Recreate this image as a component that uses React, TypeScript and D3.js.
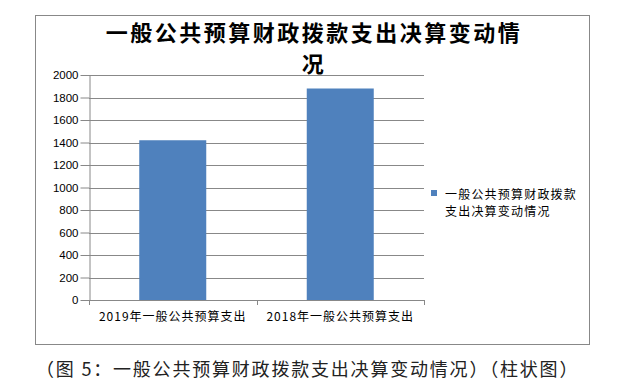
import * as d3 from 'd3';
import { useEffect, useRef } from 'react';

const categories = ['2019年一般公共预算支出', '2018年一般公共预算支出'];
const values = [1420, 1880];
const yTicks = [0, 200, 400, 600, 800, 1000, 1200, 1400, 1600, 1800, 2000];
const titleLines = ['一般公共预算财政拨款支出决算变动情', '况'];
const legendLines = ['一般公共预算财政拨款', '支出决算变动情况'];
const caption = '（图 5：一般公共预算财政拨款支出决算变动情况）（柱状图）';

const FONT = '"Noto Sans CJK SC", "Liberation Sans", sans-serif';

const BarChart = () => {
  const svgRef = useRef<SVGSVGElement | null>(null);

  useEffect(() => {
    if (!svgRef.current) return;
    const svg = d3.select(svgRef.current);
    svg.selectAll('*').remove();

    const plot = { left: 89, right: 424, top: 75, bottom: 300 };

    // chart frame
    svg
      .append('rect')
      .attr('x', 35.5)
      .attr('y', 15.5)
      .attr('width', 554)
      .attr('height', 329)
      .attr('fill', '#fff')
      .attr('stroke', '#888')
      .attr('stroke-width', 1);

    // title
    svg
      .append('g')
      .selectAll('text')
      .data(titleLines)
      .enter()
      .append('text')
      .attr('x', 314)
      .attr('y', (_d, i) => 41 + i * 31)
      .attr('text-anchor', 'middle')
      .attr('font-family', FONT)
      .attr('font-size', '22px')
      .attr('font-weight', 600)
      .attr('letter-spacing', '2.5px')
      .attr('fill', '#000')
      .text((d) => d);

    const x = d3
      .scaleBand()
      .domain(categories)
      .range([plot.left, plot.right])
      .paddingInner(0.6)
      .paddingOuter(0.3);

    const y = d3.scaleLinear().domain([0, 2000]).range([plot.bottom, plot.top]);

    // gridlines
    svg
      .append('g')
      .selectAll('line')
      .data(yTicks.filter((t) => t > 0))
      .enter()
      .append('line')
      .attr('x1', plot.left)
      .attr('x2', plot.right)
      .attr('y1', (d) => Math.round(y(d)) + 0.5)
      .attr('y2', (d) => Math.round(y(d)) + 0.5)
      .attr('stroke', '#888');

    // y axis
    const yAxis = d3
      .axisLeft(y)
      .tickValues(yTicks)
      .tickFormat(d3.format('d'))
      .tickSize(9)
      .tickSizeOuter(0)
      .tickPadding(2);
    const yg = svg
      .append('g')
      .attr('transform', `translate(${plot.left + 0.5},0)`)
      .call(yAxis);
    yg.selectAll('path, line').attr('stroke', '#888');
    yg.selectAll('text')
      .attr('font-family', '"Liberation Sans", sans-serif')
      .attr('font-size', '11.5px')
      .attr('fill', '#000');

    // bars
    svg
      .append('g')
      .selectAll('rect')
      .data(values)
      .enter()
      .append('rect')
      .attr('x', (_d, i) => x(categories[i]) as number)
      .attr('y', (d) => y(d))
      .attr('width', x.bandwidth())
      .attr('height', (d) => plot.bottom - y(d))
      .attr('fill', '#4F81BD');

    // x axis
    const step = (plot.right - plot.left) / categories.length;
    const xg = svg.append('g');
    xg.append('line')
      .attr('x1', plot.left - 5)
      .attr('x2', plot.right)
      .attr('y1', plot.bottom + 0.5)
      .attr('y2', plot.bottom + 0.5)
      .attr('stroke', '#888');
    xg.selectAll('line.tick')
      .data(d3.range(categories.length + 1))
      .enter()
      .append('line')
      .attr('class', 'tick')
      .attr('x1', (i) => Math.round(plot.left + i * step) + 0.5)
      .attr('x2', (i) => Math.round(plot.left + i * step) + 0.5)
      .attr('y1', plot.bottom)
      .attr('y2', plot.bottom + 5)
      .attr('stroke', '#888');
    xg.selectAll('text')
      .data(categories)
      .enter()
      .append('text')
      .attr('x', (d) => (x(d) as number) + x.bandwidth() / 2)
      .attr('y', 321)
      .attr('text-anchor', 'middle')
      .attr('font-family', FONT)
      .attr('font-size', '12px')
      .attr('letter-spacing', '1px')
      .attr('fill', '#000')
      .text((d) => d);

    // legend
    const lg = svg.append('g');
    lg.append('rect')
      .attr('x', 431)
      .attr('y', 190)
      .attr('width', 6)
      .attr('height', 6)
      .attr('fill', '#4F81BD');
    lg.selectAll('text')
      .data(legendLines)
      .enter()
      .append('text')
      .attr('x', 445)
      .attr('y', (_d, i) => 199 + i * 17)
      .attr('font-family', FONT)
      .attr('font-size', '12px')
      .attr('letter-spacing', '1.2px')
      .attr('fill', '#000')
      .text((d) => d);

    // caption
    svg
      .append('text')
      .attr('x', 36)
      .attr('y', 376)
      .attr('font-family', FONT)
      .attr('font-size', '18px')
      .attr('letter-spacing', '1.8px')
      .attr('fill', '#222')
      .text(caption);
  }, []);

  return (
    <svg
      ref={svgRef}
      width={620}
      height={391}
      style={{ position: 'absolute', left: 0, top: 0, background: '#fff' }}
    ></svg>
  );
};

export default function App() {
  return <BarChart />;
}
